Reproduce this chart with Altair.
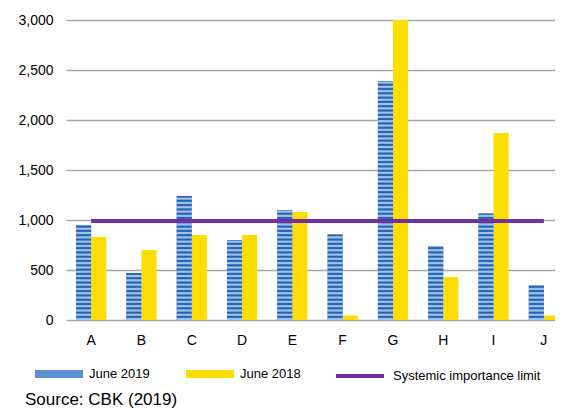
import altair as alt
import pandas as pd

categories = ["A", "B", "C", "D", "E", "F", "G", "H", "I", "J"]
june_2019 = [950, 470, 1240, 800, 1100, 855, 2390, 740, 1065, 350]
june_2018 = [830, 700, 850, 850, 1080, 45, 3000, 430, 1870, 45]
limit_value = 990
bar_series = ["June 2019", "June 2018"]
bar_colors = ["#5E8FD2", "#FFDD00"]
line_series = ["Systemic importance limit"]
line_colors = ["#7030A0"]

rows = []
for c, v in zip(categories, june_2019):
    rows.append({"cat": c, "series": "June 2019", "value": v})
for c, v in zip(categories, june_2018):
    rows.append({"cat": c, "series": "June 2018", "value": v})
bars_df = pd.DataFrame(rows)

# decorative horizontal stripes on the June 2019 bars
period = 43
stripes = []
for c, v in zip(categories, june_2019):
    k = 0
    while k * period < v:
        lo = k * period
        stripes.append({"cat": c, "series": "June 2019", "shade": "light", "lo": lo, "hi": min(lo + 20, v)})
        if lo + 22 < v:
            stripes.append({"cat": c, "series": "June 2019", "shade": "dark", "lo": lo + 22, "hi": min(lo + 40, v)})
        k += 1
stripes_df = pd.DataFrame(stripes)

line_df = pd.DataFrame({"cat": categories, "series": line_series[0], "value": [limit_value] * len(categories)})

x_enc = alt.X("cat:N", sort=categories,
              scale=alt.Scale(paddingInner=0.4, paddingOuter=0.2, range=[0, 503]),
              axis=alt.Axis(title=None, labelAngle=0, domain=False, ticks=False, labelPadding=13,
                            labelFontSize=14, labelFont="Liberation Sans", labelColor="#000000"))
y_scale = alt.Scale(domain=[0, 3000], nice=False)
y_axis = alt.Axis(title=None, values=[0, 500, 1000, 1500, 2000, 2500, 3000], format=",.0f",
                  grid=True, gridColor="#A6A6A6", gridWidth=1.6, domain=False, ticks=False,
                  labelPadding=13, labelFontSize=14, labelFont="Liberation Sans", labelColor="#000000")
x_off = alt.XOffset("series:N", sort=bar_series,
                    scale=alt.Scale(domain=bar_series, paddingInner=0, paddingOuter=0))

bar_legend = alt.Legend(
    title=None, orient="none", legendX=-31, legendY=330, direction="horizontal", columns=2,
    columnPadding=36, labelOffset=6, labelFontSize=13, labelFont="Liberation Sans", labelColor="#000000",
    symbolType="M-1,-0.17H1V0.17H-1Z", symbolSize=2304, symbolStrokeWidth=0, labelLimit=300,
)
line_legend = alt.Legend(
    title=None, orient="none", legendX=268, legendY=330, direction="horizontal",
    labelOffset=7, labelFontSize=13, labelFont="Liberation Sans", labelColor="#000000",
    symbolType="stroke", symbolSize=2304, symbolStrokeWidth=4, labelLimit=300,
)

bars = alt.Chart(bars_df).mark_bar(opacity=1).encode(
    x=x_enc,
    xOffset=x_off,
    y=alt.Y("value:Q", scale=y_scale, axis=y_axis),
    fill=alt.Fill("series:N", scale=alt.Scale(domain=bar_series, range=bar_colors), legend=bar_legend),
)

stripe_layer = alt.Chart(stripes_df).mark_bar(opacity=1).encode(
    x=alt.X("cat:N", sort=categories),
    xOffset=x_off,
    y=alt.Y("lo:Q", scale=y_scale),
    y2="hi:Q",
    color=alt.Color("shade:N", scale=alt.Scale(domain=["light", "dark"], range=["#9EC0EA", "#2463B0"]),
                    legend=None),
)

line = alt.Chart(line_df).mark_line(strokeWidth=4).encode(
    x=alt.X("cat:N", sort=categories),
    y=alt.Y("value:Q", scale=y_scale),
    stroke=alt.Stroke("series:N", scale=alt.Scale(domain=line_series, range=line_colors), legend=line_legend),
)

chart = alt.layer(bars, stripe_layer, line).resolve_scale(color="independent").properties(
    width=489, height=300,
    autosize=alt.AutoSizeParams(type="none"),
    padding={"left": 58, "top": 12, "right": 0, "bottom": 88},
    title=alt.TitleParams("Source: CBK (2019)", orient="bottom", anchor="start", frame="group",
                          dx=-41, offset=8, fontSize=17, fontWeight="normal",
                          font="Liberation Sans", color="#000000"),
).configure_view(stroke=None)

chart.save("out.html", embed_options={"renderer": "svg", "actions": False})
